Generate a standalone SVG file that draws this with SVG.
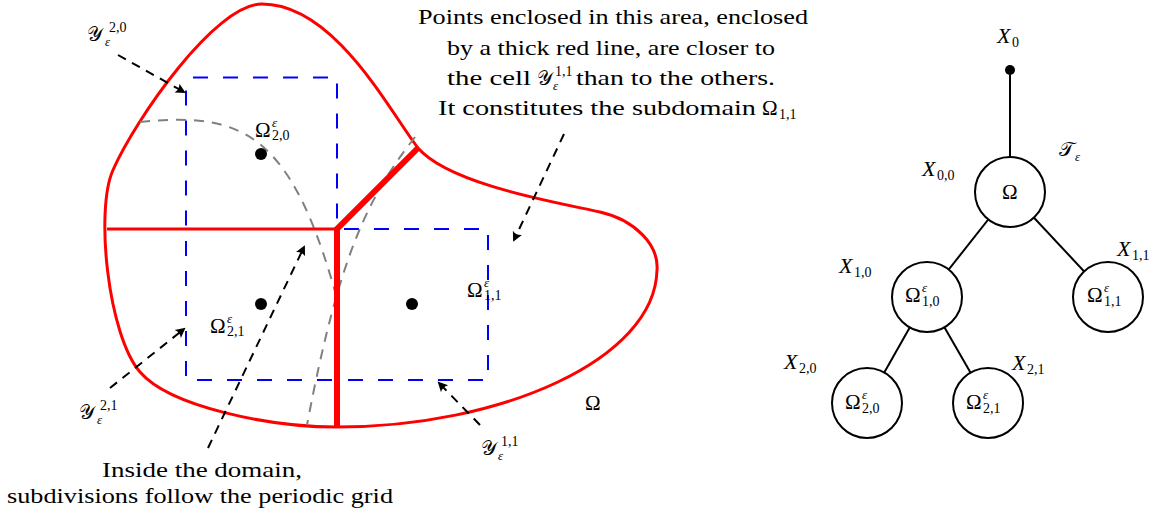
<svg xmlns="http://www.w3.org/2000/svg" width="1168" height="520" viewBox="0 0 1168 520">
<style>
.out{fill:none;stroke:#ff0000;stroke-width:3}
.thick{fill:none;stroke:#ff0000;stroke-width:6;stroke-linejoin:miter}
.cell{fill:none;stroke:#0000ff;stroke-width:2;stroke-dasharray:15 15;stroke-dashoffset:23}
.grid{fill:none;stroke:#808080;stroke-width:2;stroke-dasharray:10 8}
.arr{fill:none;stroke:#000;stroke-width:2;stroke-dasharray:9 7;marker-end:url(#ah)}
.edge{fill:none;stroke:#000;stroke-width:2}
.node{fill:#fff;stroke:#000;stroke-width:2}
.t{font-family:'Liberation Serif','DejaVu Serif',serif;font-size:21px;fill:#000}
.m{font-family:'Liberation Serif','DejaVu Serif',serif;font-size:21px;fill:#000}
.mi{font-family:'Liberation Serif','DejaVu Serif',serif;font-size:22px;font-style:italic;fill:#000}
.sub{font-family:'Liberation Serif','DejaVu Serif',serif;font-size:14px;fill:#000}
.eps{font-family:'Liberation Serif','DejaVu Serif',serif;font-size:13px;font-style:italic;fill:#000}
.scr{font-family:'DejaVu Sans','Noto Sans','DejaVu Serif',serif;font-size:20px;fill:#000}
</style>
<defs>
<marker id="ah" viewBox="-9 -6 12 12" markerWidth="12" markerHeight="12" refX="0" refY="0" orient="auto" markerUnits="userSpaceOnUse">
<path d="M2,0 L-8,-5 Q-5,0 -8,5 Z" fill="#000"/>
</marker>
</defs>

<g id="domain">
<path class="out" d="M262,4 C215,4 135,120 113,170 C95,210 108,335 140,372 C170,407 270,427 337,427 C500,427 655,360 657,270 C659,245 635,220 600,212 C560,203 450,185 418,148 C390,112 335,4 262,4 Z"/>
</g>

<g id="cells">
<rect class="cell" x="186" y="77.5" width="151" height="151.5"/>
<rect class="cell" x="186" y="229" width="151" height="151"/>
<rect class="cell" x="337" y="229" width="151" height="151"/>
</g>

<g id="grid-lines">
<path class="grid" d="M140,122 C240,112 290,130 336,295"/>
<path class="grid" d="M415,137 C370,195 340,250 307,425"/>
</g>

<g id="subdomain-boundaries">
<line class="out" x1="107" y1="229" x2="337" y2="229"/>
<path class="thick" d="M418,148 L337,229 L337,426"/>
</g>

<g id="centers">
<circle cx="261" cy="154" r="6" fill="#000"/>
<circle cx="261" cy="304" r="6" fill="#000"/>
<circle cx="412" cy="304" r="6" fill="#000"/>
</g>

<g id="connectors">
<line class="arr" x1="118" y1="55" x2="184" y2="92"/>
<line class="arr" x1="110" y1="388" x2="184" y2="329"/>
<line class="arr" x1="208" y1="448" x2="304" y2="247"/>
<line class="arr" x1="564" y1="134" x2="514" y2="240"/>
<line class="arr" x1="480" y1="425" x2="439" y2="383"/>
<line class="edge" x1="1010" y1="70" x2="1010" y2="192"/>
<line class="edge" x1="1010" y1="192" x2="927" y2="297"/>
<line class="edge" x1="1010" y1="192" x2="1108" y2="297"/>
<line class="edge" x1="927" y1="297" x2="867" y2="403"/>
<line class="edge" x1="927" y1="297" x2="988" y2="403"/>
</g>

<g id="labels-left">
<text class="scr" x="87" y="41">𝒴</text><text class="sub" x="109" y="32">2,0</text><text class="eps" x="105" y="46">ε</text>
<text class="scr" x="79" y="419">𝒴</text><text class="sub" x="100" y="410">2,1</text><text class="eps" x="97" y="424">ε</text>
<text class="scr" x="481" y="455">𝒴</text><text class="sub" x="501" y="446">1,1</text><text class="eps" x="498" y="460">ε</text>
<text class="m" x="255" y="137">Ω</text><text class="eps" x="272" y="127">ε</text><text class="sub" x="272" y="140">2,0</text>
<text class="m" x="210" y="333">Ω</text><text class="eps" x="227" y="323">ε</text><text class="sub" x="227" y="336">2,1</text>
<text class="m" x="467" y="297">Ω</text><text class="eps" x="484" y="287">ε</text><text class="sub" x="484" y="300">1,1</text>
<text class="m" x="585" y="410">Ω</text>
</g>

<g id="note-top">
<text class="t" x="418" y="24" textLength="390" lengthAdjust="spacingAndGlyphs">Points enclosed in this area, enclosed</text>
<text class="t" x="447" y="54.5" textLength="328" lengthAdjust="spacingAndGlyphs">by a thick red line, are closer to</text>
<text class="t" x="447" y="85" textLength="84" lengthAdjust="spacingAndGlyphs">the cell</text>
<text class="scr" x="537" y="85">𝒴</text><text class="sub" x="555" y="76">1,1</text><text class="eps" x="553" y="90">ε</text>
<text class="t" x="576" y="85" textLength="199" lengthAdjust="spacingAndGlyphs">than to the others.</text>
<text class="t" x="438" y="115" textLength="318" lengthAdjust="spacingAndGlyphs">It constitutes the subdomain</text>
<text class="m" x="762" y="115">Ω</text><text class="sub" x="779" y="119">1,1</text>
</g>

<g id="note-bottom">
<text class="t" x="102" y="477" textLength="200" lengthAdjust="spacingAndGlyphs">Inside the domain,</text>
<text class="t" x="7" y="503" textLength="386" lengthAdjust="spacingAndGlyphs">subdivisions follow the periodic grid</text>
</g>

<g id="tree-root">
<circle cx="1010" cy="70" r="5" fill="#000"/>
<text class="mi" x="997" y="43">X</text><text class="sub" x="1012" y="47">0</text>
</g>
<g id="node-omega">
<circle class="node" cx="1010" cy="192" r="35"/>
<text class="m" x="1002" y="199">Ω</text>
<text class="mi" x="922" y="176">X</text><text class="sub" x="937" y="180">0,0</text>
<text class="scr" x="1059" y="156">𝒯</text><text class="eps" x="1075" y="161">ε</text>
</g>
<g id="node-10">
<circle class="node" cx="927" cy="297" r="35"/>
<text class="m" x="905" y="302">Ω</text><text class="eps" x="922" y="292">ε</text><text class="sub" x="922" y="306">1,0</text>
<text class="mi" x="839" y="273">X</text><text class="sub" x="854" y="277">1,0</text>
</g>
<g id="node-11">
<circle class="node" cx="1108" cy="297" r="35"/>
<text class="m" x="1087" y="302">Ω</text><text class="eps" x="1104" y="292">ε</text><text class="sub" x="1104" y="306">1,1</text>
<text class="mi" x="1117" y="256">X</text><text class="sub" x="1132" y="260">1,1</text>
</g>
<g id="node-20">
<circle class="node" cx="867" cy="403" r="35"/>
<text class="m" x="845" y="409">Ω</text><text class="eps" x="862" y="399">ε</text><text class="sub" x="862" y="413">2,0</text>
<text class="mi" x="784" y="369">X</text><text class="sub" x="799" y="373">2,0</text>
</g>
<g id="node-21">
<circle class="node" cx="988" cy="403" r="35"/>
<text class="m" x="966" y="409">Ω</text><text class="eps" x="983" y="399">ε</text><text class="sub" x="983" y="413">2,1</text>
<text class="mi" x="1012" y="370">X</text><text class="sub" x="1027" y="374">2,1</text>
</g>
</svg>
